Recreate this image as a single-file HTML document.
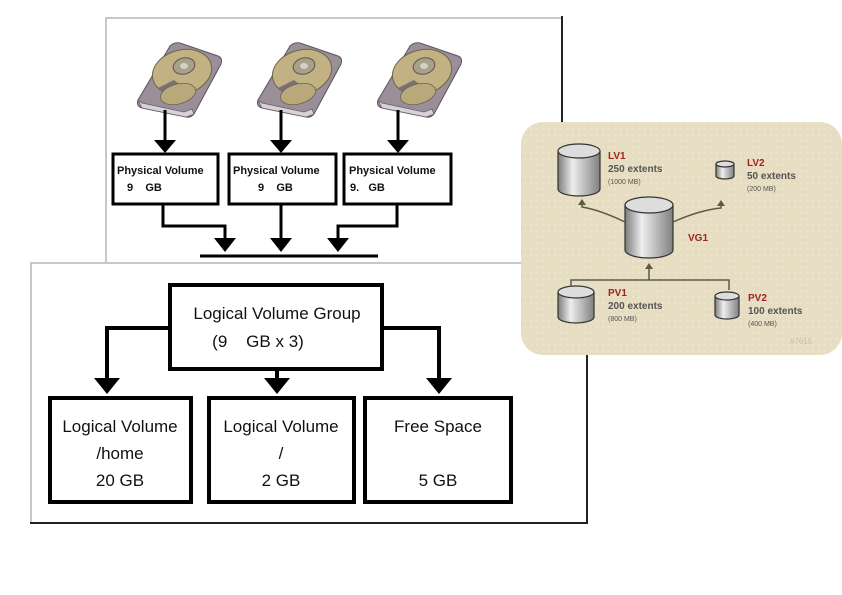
<!DOCTYPE html>
<html><head><meta charset="utf-8"><style>
html,body{margin:0;padding:0;background:#fff;width:842px;height:595px;overflow:hidden}
svg text{font-family:"Liberation Sans",sans-serif;white-space:pre}
</style></head><body>
<svg width="842" height="595" viewBox="0 0 842 595" xmlns="http://www.w3.org/2000/svg">
<defs>
<g id="disk">
  <path d="M-42,22 L-10,-32 Q-6,-36 0,-35 L38,-22 Q43,-20 41,-14 L14,36 Q11,40 6,39 L-38,30 Q-44,28 -42,22 Z" fill="#9a8f98" stroke="#5c5260" stroke-width="1"/>
  <path d="M-42,22 L-38,30 L6,39 L14,36 L12,31 L4,34 L-38,25 Z" fill="#d8d2d8" stroke="#6a606a" stroke-width="0.8"/>
  <ellipse cx="2" cy="-6" rx="30" ry="22" transform="rotate(-15 2 -6)" fill="#c2b283" stroke="#6e6448"/>
  <ellipse cx="4" cy="-12" rx="11" ry="8" transform="rotate(-15 4 -12)" fill="#a9a08a" stroke="#5e5648"/>
  <ellipse cx="4" cy="-12" rx="4" ry="3" fill="#d6d0c4"/>
  <path d="M-22,10 L-6,2 L4,10 L-10,18 Z" fill="#7a6f78"/>
  <ellipse cx="-2" cy="16" rx="18" ry="10" transform="rotate(-15 -2 16)" fill="#b8a87a" stroke="#6e6448" stroke-width="0.8"/>
</g>
<pattern id="dots" width="6" height="6" patternUnits="userSpaceOnUse"><rect width="6" height="6" fill="#e6ddc2"/><circle cx="3" cy="3" r="1" fill="#ede6d0"/></pattern>
<linearGradient id="g2" x1="0" x2="1"><stop offset="0" stop-color="#7c7c7c"/><stop offset="0.35" stop-color="#eee"/><stop offset="1" stop-color="#808080"/></linearGradient>
</defs>

<path d="M106,262 L106,18 L562,18" fill="none" stroke="#c8c8c8" stroke-width="2"/>
<line x1="562" y1="16" x2="562" y2="128" stroke="#222" stroke-width="2"/>

<use href="#disk" x="180" y="78"/>
<use href="#disk" x="300" y="78"/>
<use href="#disk" x="420" y="78"/>

<g stroke="#000" stroke-width="3" fill="none">
  <line x1="165" y1="110" x2="165" y2="142"/>
  <line x1="281" y1="110" x2="281" y2="142"/>
  <line x1="398" y1="110" x2="398" y2="142"/>
  <rect x="113" y="154" width="105" height="50"/>
  <rect x="229" y="154" width="107" height="50"/>
  <rect x="344" y="154" width="107" height="50"/>
  <path d="M163,205 V226 H225 V240"/>
  <line x1="281" y1="205" x2="281" y2="240"/>
  <path d="M397,205 V226 H338 V240"/>
  <line x1="200" y1="256" x2="378" y2="256"/>
</g>
<g fill="#000">
  <polygon points="154,140 176,140 165,153"/>
  <polygon points="270,140 292,140 281,153"/>
  <polygon points="387,140 409,140 398,153"/>
  <polygon points="214,238 236,238 225,252"/>
  <polygon points="270,238 292,238 281,252"/>
  <polygon points="327,238 349,238 338,252"/>
</g>
<g font-size="11" font-weight="bold" fill="#111">
  <text x="117" y="174">Physical Volume</text><text x="127" y="191">9&#160;&#160;&#160;&#160;GB</text>
  <text x="233" y="174">Physical Volume</text><text x="258" y="191">9&#160;&#160;&#160;&#160;GB</text>
  <text x="349" y="174">Physical Volume</text><text x="350" y="191">9.&#160;&#160;&#160;GB</text>
</g>

<path d="M31,523 L31,263 L560,263" fill="none" stroke="#c8c8c8" stroke-width="2"/>
<path d="M30,523 H587 V350" fill="none" stroke="#222" stroke-width="2"/>
<g stroke="#000" stroke-width="4" fill="none">
  <rect x="170" y="285" width="212" height="84"/>
  <path d="M170,328 H107 V380"/>
  <path d="M277,369 V380"/>
  <path d="M382,328 H439 V380"/>
  <rect x="50" y="398" width="141" height="104"/>
  <rect x="209" y="398" width="145" height="104"/>
  <rect x="365" y="398" width="146" height="104"/>
</g>
<g fill="#000">
  <polygon points="94,378 120,378 107,394"/>
  <polygon points="264,378 290,378 277,394"/>
  <polygon points="426,378 452,378 439,394"/>
</g>
<g font-size="17" fill="#111" text-anchor="middle">
  <text x="277" y="319">Logical Volume Group</text>
  <text x="258" y="347">(9&#160;&#160;&#160;&#160;GB x 3)</text>
  <text x="120" y="432">Logical Volume</text>
  <text x="120" y="459">/home</text>
  <text x="120" y="486">20 GB</text>
  <text x="281" y="432">Logical Volume</text>
  <text x="281" y="459">/</text>
  <text x="281" y="486">2 GB</text>
  <text x="438" y="432">Free Space</text>
  <text x="438" y="486">5 GB</text>
</g>

<rect x="521" y="122" width="321" height="233" rx="22" fill="url(#dots)"/>
<g stroke="#333" stroke-width="1.2" fill="url(#g2)">
  <path d="M558,151 V189 A21,7 0 0 0 600,189 V151"/><ellipse cx="579" cy="151" rx="21" ry="7" fill="#ddd"/>
  <path d="M716,164 V176 A9,3 0 0 0 734,176 V164"/><ellipse cx="725" cy="164" rx="9" ry="3" fill="#ddd"/>
  <path d="M625,205 V250 A24,8 0 0 0 673,250 V205"/><ellipse cx="649" cy="205" rx="24" ry="8" fill="#ddd"/>
  <path d="M558,292 V317 A18,6 0 0 0 594,317 V292"/><ellipse cx="576" cy="292" rx="18" ry="6" fill="#ddd"/>
  <path d="M715,296 V315 A12,4 0 0 0 739,315 V296"/><ellipse cx="727" cy="296" rx="12" ry="4" fill="#ddd"/>
</g>
<g stroke="#5a5a48" stroke-width="1.5" fill="none">
  <path d="M625,222 Q600,210 582,207 V204"/>
  <path d="M673,222 Q700,210 721,208 V205"/>
  <path d="M571,287 V280 H729 V290"/>
  <path d="M649,280 V268"/>
</g>
<g fill="#5a5a48">
  <polygon points="578,205 586,205 582,199"/>
  <polygon points="717,206 725,206 721,200"/>
  <polygon points="645,269 653,269 649,263"/>
</g>
<g>
  <text x="608" y="159" font-size="10" font-weight="bold" fill="#a0251e">LV1</text>
  <text x="608" y="172" font-size="10" font-weight="bold" fill="#555">250 extents</text>
  <text x="608" y="184" font-size="7" fill="#555">(1000 MB)</text>
  <text x="747" y="166" font-size="10" font-weight="bold" fill="#a0251e">LV2</text>
  <text x="747" y="179" font-size="10" font-weight="bold" fill="#555">50 extents</text>
  <text x="747" y="191" font-size="7" fill="#555">(200 MB)</text>
  <text x="688" y="241" font-size="10" font-weight="bold" fill="#a0251e">VG1</text>
  <text x="608" y="296" font-size="10" font-weight="bold" fill="#a0251e">PV1</text>
  <text x="608" y="309" font-size="10" font-weight="bold" fill="#555">200 extents</text>
  <text x="608" y="321" font-size="7" fill="#555">(800 MB)</text>
  <text x="748" y="301" font-size="10" font-weight="bold" fill="#a0251e">PV2</text>
  <text x="748" y="314" font-size="10" font-weight="bold" fill="#555">100 extents</text>
  <text x="748" y="326" font-size="7" fill="#555">(400 MB)</text>
  <text x="790" y="344" font-size="8" fill="#c8c0a8">#7615</text>
</g>
</svg>
</body></html>
